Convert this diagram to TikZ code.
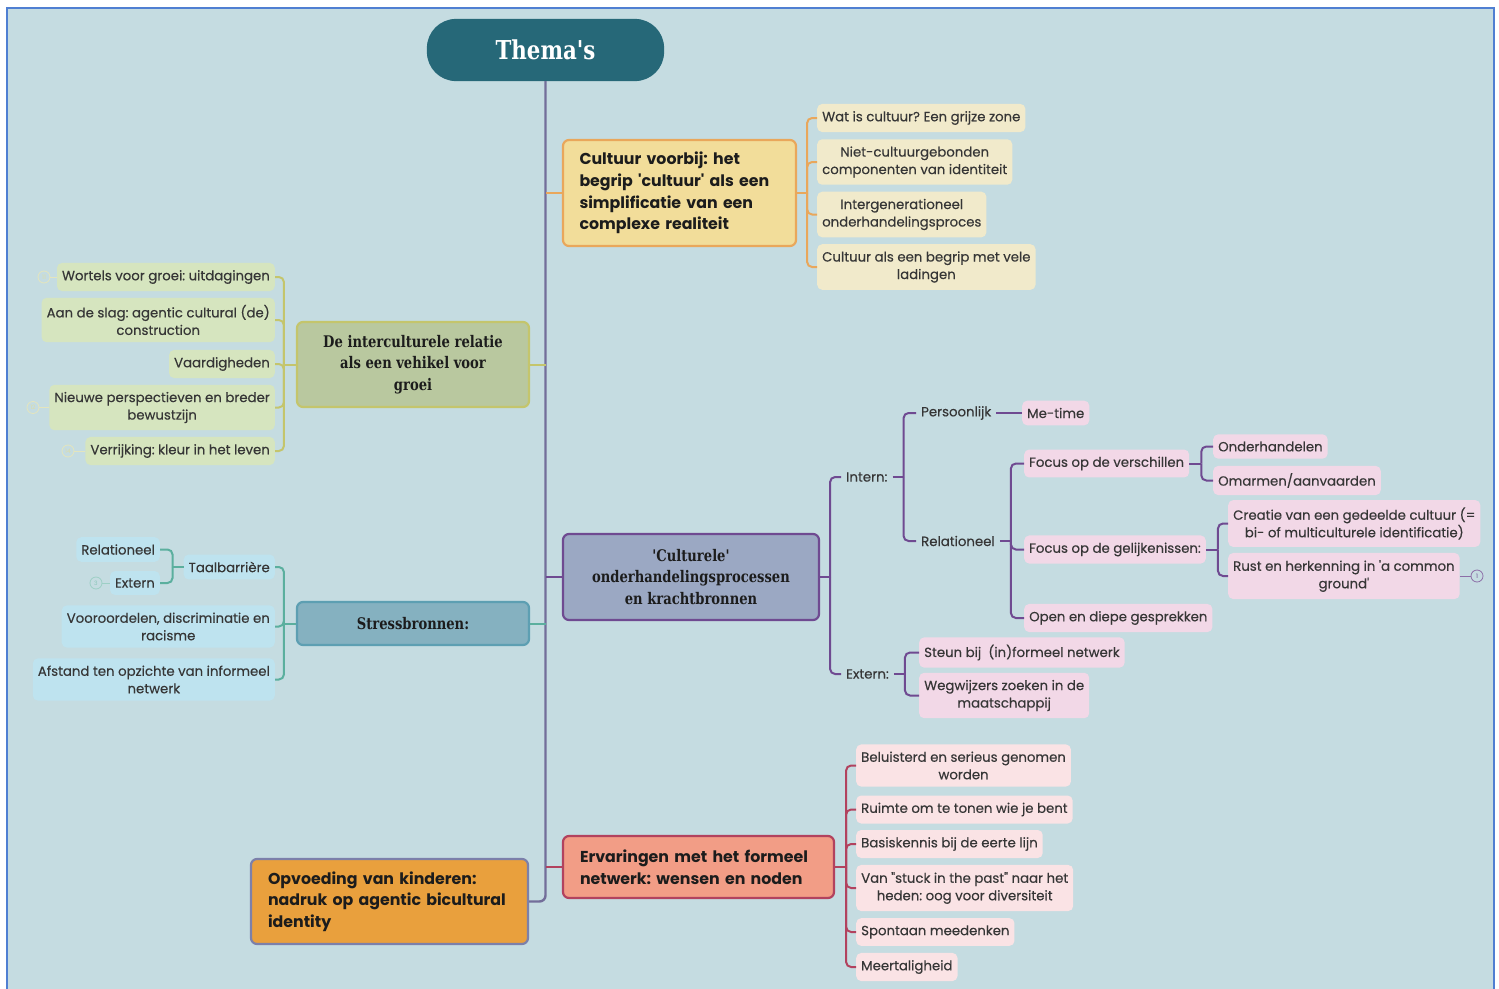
\documentclass[tikz,border=0pt]{standalone}
\usepackage{fontspec}
\setmainfont{Poppins}[Ligatures=TeXOff]
\newfontfamily\leaffont{Poppins}[Ligatures=TeXOff,FakeBold=0.35]
\newfontfamily\slabfont{DejaVu Serif}[Ligatures=TeXOff,FakeStretch=0.82]
\frenchspacing

\definecolor{bgblue}{HTML}{C5DCE1}
\definecolor{frameblue}{HTML}{4F7FD2}
\definecolor{trunkline}{HTML}{736E9A}
\definecolor{themafill}{HTML}{266878}
\definecolor{txtdark}{HTML}{1C1C1C}
\definecolor{txtgrey}{HTML}{363636}
\definecolor{cultfill}{HTML}{F2DD9A}
\definecolor{cultdraw}{HTML}{E9A75B}
\definecolor{cultleaf}{HTML}{F1EACB}
\definecolor{groeifill}{HTML}{B9C89F}
\definecolor{groeidraw}{HTML}{C4C56C}
\definecolor{groeileaf}{HTML}{D6E5BF}
\definecolor{stressfill}{HTML}{85B1C0}
\definecolor{stressdraw}{HTML}{5D9FB2}
\definecolor{stressline}{HTML}{5BAF9E}
\definecolor{stressleaf}{HTML}{BEE3EF}
\definecolor{procfill}{HTML}{9BA8C3}
\definecolor{procdraw}{HTML}{6F4A91}
\definecolor{procleaf}{HTML}{F2D8E7}
\definecolor{ervfill}{HTML}{F29D86}
\definecolor{ervdraw}{HTML}{B2425E}
\definecolor{ervleaf}{HTML}{FAE3E5}
\definecolor{opvfill}{HTML}{E9A03D}
\definecolor{opvdraw}{HTML}{7C80AA}

\begin{document}
\begin{tikzpicture}[x=1pt,y=-1pt]
		% Styles for boxes, leaves and connectors
		\tikzset{
			box/.style={rounded corners=6pt, line width=2.2pt, inner sep=0pt, align=center, text=txtdark},
			slab/.style={font=\slabfont\bfseries\fontsize{16}{21.5}\selectfont},
			bold/.style={font=\bfseries\fontsize{15.8}{21.7}\selectfont},
			leaf/.style={rounded corners=5pt, inner xsep=5pt, inner ysep=7.2pt, align=center, text=txtgrey, font=\leaffont\fontsize{13.3}{17.5}\selectfont},
			plain/.style={inner xsep=5pt, inner ysep=2pt, text=txtgrey, font=\leaffont\fontsize{13.3}{17.5}\selectfont},
			link/.style={line width=2pt, rounded corners=5pt},
			badge/.style={circle, draw, line width=0.8pt, inner sep=0pt, minimum size=12pt, font=\fontsize{6}{6}\selectfont}
		}
		\useasboundingbox (0,0) rectangle (1499,988);
		
		% Background and frame
		\fill[white] (0,0) rectangle (1499,988);
		\draw[frameblue, line width=1.6pt, fill=bgblue] (7,8) rectangle (1494,1000);
		
		% Central topic
		\node[box, fill=themafill, draw=themafill, rounded corners=28pt, minimum width=235pt, minimum height=60pt,
			text=white, font=\slabfont\bfseries\fontsize{26}{26}\selectfont] (thema) at (545.5,50) {Thema's};
		
		% Main branches
		\node[box, bold, fill=cultfill, draw=cultdraw, text width=200pt, inner xsep=16.5pt, minimum height=106pt, align=left] (cultuur) at (679.5,193) {Cultuur voorbij: het\\begrip 'cultuur' als een\\simplificatie van een\\complexe realiteit};
		\node[box, slab, fill=groeifill, draw=groeidraw, minimum width=232pt, minimum height=85pt] (groei) at (413,364.5) {De interculturele relatie\\als een vehikel voor\\groei};
		\node[box, slab, fill=stressfill, draw=stressdraw, minimum width=232pt, minimum height=43pt] (stress) at (413,623.5) {Stressbronnen:};
		\node[box, slab, fill=procfill, draw=procdraw, minimum width=256pt, minimum height=86pt] (proces) at (691,577) {'Culturele'\\onderhandelingsprocessen\\en krachtbronnen};
		\node[box, bold, fill=ervfill, draw=ervdraw, text width=237pt, inner xsep=17pt, minimum height=62pt, align=left] (ervaring) at (698.5,867) {Ervaringen met het formeel\\netwerk: wensen en noden};
		\node[box, bold, fill=opvfill, draw=opvdraw, text width=243pt, inner xsep=17pt, minimum height=85pt, align=left] (opvoeding) at (389.5,901.5) {Opvoeding van kinderen:\\nadruk op agentic bicultural\\identity};
		
		% Trunk and stubs to the main branches
		\draw[trunkline, line width=2.4pt, rounded corners=6pt] (thema.south) |- (opvoeding.east);
		\draw[cultdraw, line width=2pt] (cultuur.west) -- (cultuur.west -| thema.south);
		\draw[groeidraw, line width=2pt] (groei.east) -- (groei.east -| thema.south);
		\draw[stressline, line width=2pt] (stress.east) -- (stress.east -| thema.south);
		\draw[procdraw, line width=2pt] (proces.west) -- (proces.west -| thema.south);
		\draw[ervdraw, line width=2pt] (ervaring.west) -- (ervaring.west -| thema.south);
		
		% Cultuur voorbij
		\node[leaf, fill=cultleaf, anchor=west] (c1) at (817,118) {Wat is cultuur? Een grijze zone};
		\node[leaf, fill=cultleaf, anchor=west] (c2) at (817,162) {Niet-cultuurgebonden\\componenten van identiteit};
		\node[leaf, fill=cultleaf, anchor=west] (c3) at (817,214.5) {Intergenerationeel\\onderhandelingsproces};
		\node[leaf, fill=cultleaf, anchor=west] (c4) at (817,267) {Cultuur als een begrip met vele\\ladingen};
		\draw[cultdraw, line width=2pt] (cultuur.east) -- ++(10,0) coordinate (cb);
		\foreach \c in {c1,c2,c3,c4}
			\draw[cultdraw, link] (cb) |- (\c.west);
		
		% De interculturele relatie
		\node[leaf, fill=groeileaf, anchor=east] (g1) at (275,277) {Wortels voor groei: uitdagingen};
		\node[leaf, fill=groeileaf, anchor=east] (g2) at (275,320) {Aan de slag: agentic cultural (de)\\construction};
		\node[leaf, fill=groeileaf, anchor=east] (g3) at (275,364) {Vaardigheden};
		\node[leaf, fill=groeileaf, anchor=east] (g4) at (275,407.5) {Nieuwe perspectieven en breder\\bewustzijn};
		\node[leaf, fill=groeileaf, anchor=east] (g5) at (275,451) {Verrijking: kleur in het leven};
		\draw[groeidraw, line width=2pt] (groei.west) -- ++(-12,0) coordinate (gb);
		\foreach \g in {g1,g2,g3,g4,g5}
			\draw[groeidraw, link] (gb) |- (\g.east);
		\node[badge, draw=groeidraw!45, text=groeidraw!60] (b11) at (44,277) {11};
		\node[badge, draw=groeidraw!45, text=groeidraw!60] (b12) at (33,407.5) {12};
		\node[badge, draw=groeidraw!45, text=groeidraw!60] (b14) at (68,451) {14};
		\draw[groeidraw!45, line width=0.8pt] (b11) -- (g1.west);
		\draw[groeidraw!45, line width=0.8pt] (b12) -- (g4.west);
		\draw[groeidraw!45, line width=0.8pt] (b14) -- (g5.west);
		
		% Stressbronnen
		\node[leaf, fill=stressleaf, anchor=east] (s1) at (275,567) {Taalbarri\`ere};
		\node[leaf, fill=stressleaf, anchor=east] (s2) at (275,626.5) {Vooroordelen, discriminatie en\\racisme};
		\node[leaf, fill=stressleaf, anchor=east] (s3) at (275,679.5) {Afstand ten opzichte van informeel\\netwerk};
		\node[leaf, fill=stressleaf, anchor=east] (t1) at (160,549.5) {Relationeel};
		\node[leaf, fill=stressleaf, anchor=east] (t2) at (160,583) {Extern};
		\draw[stressline, line width=2pt] (stress.west) -- ++(-12,0) coordinate (sb);
		\foreach \s in {s1,s2,s3}
			\draw[stressline, link] (sb) |- (\s.east);
		\draw[stressline, line width=2pt] (s1.west) -- ++(-11,0) coordinate (tb);
		\foreach \t in {t1,t2}
			\draw[stressline, link] (tb) |- (\t.east);
		\node[badge, draw=stressline!60, text=stressline!70] (b3) at (96,583) {3};
		\draw[stressline!60, line width=0.8pt] (b3) -- (t2.west);
		
		% Culturele onderhandelingsprocessen
		\node[plain, anchor=west] (intern) at (841,477) {Intern:};
		\node[plain, anchor=west] (extern) at (841,674) {Extern:};
		\node[plain, anchor=west] (persoon) at (916,413) {Persoonlijk};
		\node[plain, anchor=west] (relatie) at (916,541) {Relationeel};
		\node[leaf, fill=procleaf, anchor=west] (metime) at (1022,413) {Me-time};
		\node[leaf, fill=procleaf, anchor=west] (f1) at (1024,463.5) {Focus op de verschillen};
		\node[leaf, fill=procleaf, anchor=west] (f2) at (1024,549.5) {Focus op de gelijkenissen:};
		\node[leaf, fill=procleaf, anchor=west] (f3) at (1024,618) {Open en diepe gesprekken};
		\node[leaf, fill=procleaf, anchor=west] (o1) at (1213,446.5) {Onderhandelen};
		\node[leaf, fill=procleaf, anchor=west] (o2) at (1213,480.5) {Omarmen/aanvaarden};
		\node[leaf, fill=procleaf, anchor=west] (r1) at (1228,523.5) {Creatie van een gedeelde cultuur (=\\bi- of multiculturele identificatie)};
		\node[leaf, fill=procleaf, anchor=west] (r2) at (1228,576) {Rust en herkenning in 'a common\\ground'};
		\node[leaf, fill=procleaf, anchor=west] (x1) at (919,652.5) {Steun bij~~(in)formeel netwerk};
		\node[leaf, fill=procleaf, anchor=west] (x2) at (919,695.5) {Wegwijzers zoeken in de\\maatschappij};
		\draw[procdraw, line width=2pt] (proces.east) -- ++(10,0) coordinate (pb);
		\foreach \p in {intern,extern}
			\draw[procdraw, link] (pb) |- (\p.west);
		\draw[procdraw, line width=2pt] (intern.east) -- ++(11,0) coordinate (ib);
		\foreach \p in {persoon,relatie}
			\draw[procdraw, link] (ib) |- (\p.west);
		\draw[procdraw, line width=2pt] (persoon.east) -- (metime.west);
		\draw[procdraw, line width=2pt] (relatie.east) -- ++(11,0) coordinate (rb);
		\foreach \p in {f1,f2,f3}
			\draw[procdraw, link] (rb) |- (\p.west);
		\draw[procdraw, line width=2pt] (f1.east) -- ++(12,0) coordinate (vb);
		\foreach \p in {o1,o2}
			\draw[procdraw, link] (vb) |- (\p.west);
		\draw[procdraw, line width=2pt] (f2.east) -- ++(12,0) coordinate (lb);
		\foreach \p in {r1,r2}
			\draw[procdraw, link] (lb) |- (\p.west);
		\draw[procdraw, line width=2pt] (extern.east) -- ++(11,0) coordinate (eb);
		\foreach \p in {x1,x2}
			\draw[procdraw, link] (eb) |- (\p.west);
		\node[badge, draw=procdraw!80, text=procdraw] (b1) at (1477,576) {1};
		\draw[procdraw!80, line width=0.8pt] (r2.east) -- (b1);
		
		% Ervaringen met het formeel netwerk
		\node[leaf, fill=ervleaf, anchor=west] (e1) at (856,765.5) {Beluisterd en serieus genomen\\worden};
		\node[leaf, fill=ervleaf, anchor=west] (e2) at (856,809.5) {Ruimte om te tonen wie je bent};
		\node[leaf, fill=ervleaf, anchor=west] (e3) at (856,844) {Basiskennis bij de eerte lijn};
		\node[leaf, fill=ervleaf, anchor=west] (e4) at (856,888) {Van "stuck in the past" naar het\\heden: oog voor diversiteit};
		\node[leaf, fill=ervleaf, anchor=west] (e5) at (856,932) {Spontaan meedenken};
		\node[leaf, fill=ervleaf, anchor=west] (e6) at (856,967) {Meertaligheid};
		\draw[ervdraw, line width=2pt] (ervaring.east) -- ++(11,0) coordinate (vb2);
		\foreach \e in {e1,e2,e3,e4,e5,e6}
			\draw[ervdraw, link] (vb2) |- (\e.west);
	\end{tikzpicture}
\end{document}
